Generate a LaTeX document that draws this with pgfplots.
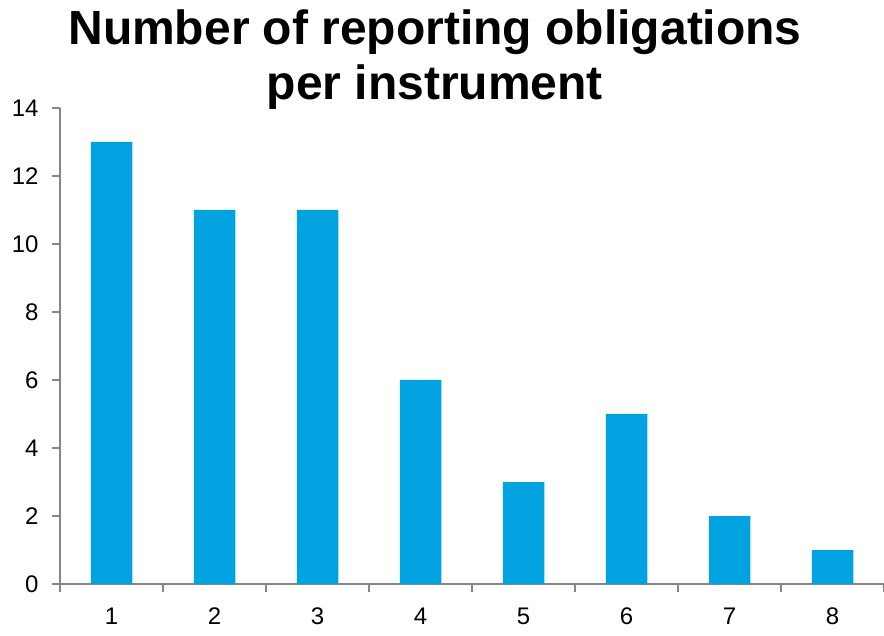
\documentclass[border=0pt]{standalone}
\usepackage{fontspec}
\setmainfont{Liberation Sans}
\usepackage{pgfplots}
\pgfplotsset{compat=1.18}
\definecolor{barblue}{RGB}{0,163,224}
\definecolor{axisgray}{RGB}{134,134,134}
\begin{document}
\begin{tikzpicture}
\useasboundingbox (-60pt,-51pt) rectangle (824pt,584pt);
\begin{axis}[
  at={(0pt,0pt)}, anchor=south west,
  scale only axis, width=824pt, height=476pt,
  xmin=0.5, xmax=8.5, ymin=0, ymax=14,
  axis x line*=bottom, axis y line*=left,
  axis line style={axisgray, line width=1.3pt, -},
  tick align=outside,
  xtick={1,...,8},
  minor xtick={0.5,1.5,...,8.5},
  ytick={0,2,...,14},
  major tick length=8pt, minor tick length=8pt,
  tick style={axisgray, line width=1.3pt},
  major x tick style={draw=none},
  /pgf/number format/assume math mode=true,
  tick label style={font=\fontsize{24}{28}\selectfont, text=black},
  xticklabel style={yshift=-12pt},
  yticklabel style={xshift=-10pt},
]
\addplot[ybar, bar width=41.5pt, fill=barblue, draw=none]
  coordinates {(1,13) (2,11) (3,11) (4,6) (5,3) (6,5) (7,2) (8,1)};
\end{axis}
\node[anchor=base, font=\fontsize{48}{58}\selectfont\bfseries] at (375pt,539pt) {Number of reporting obligations};
\node[anchor=base, font=\fontsize{48}{58}\selectfont\bfseries] at (375pt,484pt) {per instrument};
\end{tikzpicture}
\end{document}
